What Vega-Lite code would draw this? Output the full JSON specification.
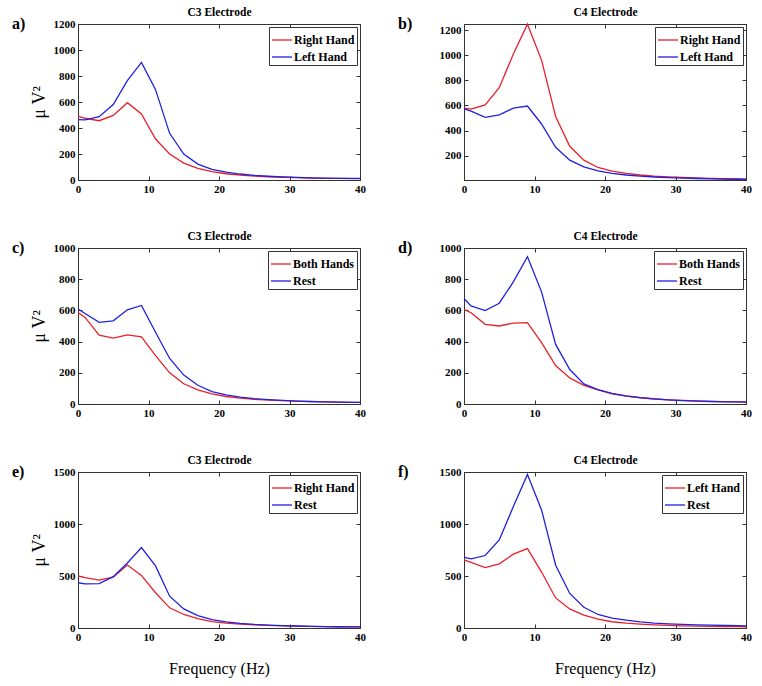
{
  "$schema": "https://vega.github.io/schema/vega-lite/v6.json",
  "background": "white",
  "padding": {"left": 11, "top": 6, "right": 5, "bottom": 5},
  "config": {
    "font": "Liberation Serif, Times New Roman, DejaVu Serif, serif",
    "view": {"stroke": "#333"},
    "axis": {"labelFont": "Liberation Serif, Times New Roman, DejaVu Serif, serif", "labelFontWeight": "bold", "labelFontSize": 11, "labelColor": "#000", "domainColor": "#333", "tickColor": "#333", "tickSize": -4, "labelPadding": 7, "grid": false, "labelFlush": false, "titleColor": "#000", "titleFont": "Liberation Serif, Times New Roman, DejaVu Serif, serif", "titleFontWeight": "normal", "format": "d"},
    "legend": {"orient": "top-right", "offset": 3, "strokeColor": "#333", "fillColor": "#fff", "padding": 2, "labelFont": "Liberation Serif, Times New Roman, DejaVu Serif, serif", "labelFontWeight": "bold", "labelFontSize": 12, "labelColor": "#000", "symbolType": "stroke", "symbolSize": 400, "symbolStrokeWidth": 1.5, "rowPadding": -2, "labelOffset": 1, "cornerRadius": 0},
    "title": {"font": "Liberation Serif, Times New Roman, DejaVu Serif, serif", "fontSize": 16, "fontWeight": "bold", "anchor": "start", "frame": "group", "dx": -66, "dy": 29, "offset": 0, "color": "#000"},
    "line": {"strokeWidth": 1.3}
  },
  "datasets": {
    "a": [
      {"s":"Right Hand","f":0,"v":492},{"s":"Right Hand","f":1,"v":475},{"s":"Right Hand","f":3,"v":456},{"s":"Right Hand","f":5,"v":497},{"s":"Right Hand","f":7,"v":595},{"s":"Right Hand","f":9,"v":508},{"s":"Right Hand","f":11,"v":315},{"s":"Right Hand","f":13,"v":200},{"s":"Right Hand","f":15,"v":130},{"s":"Right Hand","f":17,"v":90},{"s":"Right Hand","f":19,"v":65},{"s":"Right Hand","f":21,"v":48},{"s":"Right Hand","f":23,"v":38},{"s":"Right Hand","f":25,"v":30},{"s":"Right Hand","f":27,"v":25},{"s":"Right Hand","f":29,"v":21},{"s":"Right Hand","f":31,"v":18},{"s":"Right Hand","f":33,"v":15},{"s":"Right Hand","f":35,"v":13},{"s":"Right Hand","f":37,"v":12},{"s":"Right Hand","f":39,"v":11},{"s":"Right Hand","f":40,"v":10},
      {"s":"Left Hand","f":0,"v":465},{"s":"Left Hand","f":1,"v":462},{"s":"Left Hand","f":3,"v":487},{"s":"Left Hand","f":5,"v":580},{"s":"Left Hand","f":7,"v":764},{"s":"Left Hand","f":9,"v":905},{"s":"Left Hand","f":11,"v":695},{"s":"Left Hand","f":13,"v":359},{"s":"Left Hand","f":15,"v":200},{"s":"Left Hand","f":17,"v":122},{"s":"Left Hand","f":19,"v":82},{"s":"Left Hand","f":21,"v":60},{"s":"Left Hand","f":23,"v":46},{"s":"Left Hand","f":25,"v":36},{"s":"Left Hand","f":27,"v":29},{"s":"Left Hand","f":29,"v":24},{"s":"Left Hand","f":31,"v":20},{"s":"Left Hand","f":33,"v":17},{"s":"Left Hand","f":35,"v":15},{"s":"Left Hand","f":37,"v":13},{"s":"Left Hand","f":39,"v":12},{"s":"Left Hand","f":40,"v":12}
    ],
    "b": [
      {"s":"Right Hand","f":0,"v":578},{"s":"Right Hand","f":1,"v":570},{"s":"Right Hand","f":3,"v":605},{"s":"Right Hand","f":5,"v":742},{"s":"Right Hand","f":7,"v":1010},{"s":"Right Hand","f":9,"v":1248},{"s":"Right Hand","f":11,"v":962},{"s":"Right Hand","f":13,"v":512},{"s":"Right Hand","f":15,"v":274},{"s":"Right Hand","f":17,"v":163},{"s":"Right Hand","f":19,"v":105},{"s":"Right Hand","f":21,"v":75},{"s":"Right Hand","f":23,"v":58},{"s":"Right Hand","f":25,"v":45},{"s":"Right Hand","f":27,"v":36},{"s":"Right Hand","f":29,"v":30},{"s":"Right Hand","f":31,"v":25},{"s":"Right Hand","f":33,"v":21},{"s":"Right Hand","f":35,"v":18},{"s":"Right Hand","f":37,"v":15},{"s":"Right Hand","f":39,"v":13},{"s":"Right Hand","f":40,"v":12},
      {"s":"Left Hand","f":0,"v":573},{"s":"Left Hand","f":1,"v":555},{"s":"Left Hand","f":3,"v":505},{"s":"Left Hand","f":5,"v":525},{"s":"Left Hand","f":7,"v":578},{"s":"Left Hand","f":9,"v":595},{"s":"Left Hand","f":11,"v":452},{"s":"Left Hand","f":13,"v":266},{"s":"Left Hand","f":15,"v":163},{"s":"Left Hand","f":17,"v":110},{"s":"Left Hand","f":19,"v":78},{"s":"Left Hand","f":21,"v":58},{"s":"Left Hand","f":23,"v":45},{"s":"Left Hand","f":25,"v":36},{"s":"Left Hand","f":27,"v":29},{"s":"Left Hand","f":29,"v":24},{"s":"Left Hand","f":31,"v":20},{"s":"Left Hand","f":33,"v":17},{"s":"Left Hand","f":35,"v":14},{"s":"Left Hand","f":37,"v":12},{"s":"Left Hand","f":39,"v":11},{"s":"Left Hand","f":40,"v":10}
    ],
    "c": [
      {"s":"Both Hands","f":0,"v":587},{"s":"Both Hands","f":1,"v":555},{"s":"Both Hands","f":3,"v":441},{"s":"Both Hands","f":5,"v":422},{"s":"Both Hands","f":7,"v":443},{"s":"Both Hands","f":9,"v":430},{"s":"Both Hands","f":11,"v":310},{"s":"Both Hands","f":13,"v":200},{"s":"Both Hands","f":15,"v":130},{"s":"Both Hands","f":17,"v":90},{"s":"Both Hands","f":19,"v":65},{"s":"Both Hands","f":21,"v":48},{"s":"Both Hands","f":23,"v":38},{"s":"Both Hands","f":25,"v":30},{"s":"Both Hands","f":27,"v":25},{"s":"Both Hands","f":29,"v":21},{"s":"Both Hands","f":31,"v":18},{"s":"Both Hands","f":33,"v":15},{"s":"Both Hands","f":35,"v":13},{"s":"Both Hands","f":37,"v":12},{"s":"Both Hands","f":39,"v":11},{"s":"Both Hands","f":40,"v":10},
      {"s":"Rest","f":0,"v":609},{"s":"Rest","f":1,"v":580},{"s":"Rest","f":3,"v":523},{"s":"Rest","f":5,"v":533},{"s":"Rest","f":7,"v":604},{"s":"Rest","f":9,"v":632},{"s":"Rest","f":11,"v":460},{"s":"Rest","f":13,"v":292},{"s":"Rest","f":15,"v":185},{"s":"Rest","f":17,"v":120},{"s":"Rest","f":19,"v":80},{"s":"Rest","f":21,"v":58},{"s":"Rest","f":23,"v":44},{"s":"Rest","f":25,"v":34},{"s":"Rest","f":27,"v":28},{"s":"Rest","f":29,"v":23},{"s":"Rest","f":31,"v":19},{"s":"Rest","f":33,"v":16},{"s":"Rest","f":35,"v":14},{"s":"Rest","f":37,"v":12},{"s":"Rest","f":39,"v":11},{"s":"Rest","f":40,"v":10}
    ],
    "d": [
      {"s":"Both Hands","f":0,"v":607},{"s":"Both Hands","f":1,"v":585},{"s":"Both Hands","f":3,"v":511},{"s":"Both Hands","f":5,"v":500},{"s":"Both Hands","f":7,"v":519},{"s":"Both Hands","f":9,"v":521},{"s":"Both Hands","f":11,"v":393},{"s":"Both Hands","f":13,"v":247},{"s":"Both Hands","f":15,"v":167},{"s":"Both Hands","f":17,"v":120},{"s":"Both Hands","f":19,"v":90},{"s":"Both Hands","f":21,"v":65},{"s":"Both Hands","f":23,"v":50},{"s":"Both Hands","f":25,"v":40},{"s":"Both Hands","f":27,"v":32},{"s":"Both Hands","f":29,"v":27},{"s":"Both Hands","f":31,"v":23},{"s":"Both Hands","f":33,"v":20},{"s":"Both Hands","f":35,"v":17},{"s":"Both Hands","f":37,"v":15},{"s":"Both Hands","f":39,"v":14},{"s":"Both Hands","f":40,"v":13},
      {"s":"Rest","f":0,"v":676},{"s":"Rest","f":1,"v":629},{"s":"Rest","f":3,"v":599},{"s":"Rest","f":5,"v":646},{"s":"Rest","f":7,"v":783},{"s":"Rest","f":9,"v":944},{"s":"Rest","f":11,"v":719},{"s":"Rest","f":13,"v":382},{"s":"Rest","f":15,"v":221},{"s":"Rest","f":17,"v":129},{"s":"Rest","f":19,"v":92},{"s":"Rest","f":21,"v":68},{"s":"Rest","f":23,"v":52},{"s":"Rest","f":25,"v":41},{"s":"Rest","f":27,"v":33},{"s":"Rest","f":29,"v":27},{"s":"Rest","f":31,"v":22},{"s":"Rest","f":33,"v":19},{"s":"Rest","f":35,"v":16},{"s":"Rest","f":37,"v":14},{"s":"Rest","f":39,"v":13},{"s":"Rest","f":40,"v":12}
    ],
    "e": [
      {"s":"Right Hand","f":0,"v":500},{"s":"Right Hand","f":1,"v":485},{"s":"Right Hand","f":3,"v":461},{"s":"Right Hand","f":5,"v":490},{"s":"Right Hand","f":7,"v":606},{"s":"Right Hand","f":9,"v":506},{"s":"Right Hand","f":11,"v":339},{"s":"Right Hand","f":13,"v":194},{"s":"Right Hand","f":15,"v":130},{"s":"Right Hand","f":17,"v":90},{"s":"Right Hand","f":19,"v":62},{"s":"Right Hand","f":21,"v":47},{"s":"Right Hand","f":23,"v":37},{"s":"Right Hand","f":25,"v":30},{"s":"Right Hand","f":27,"v":25},{"s":"Right Hand","f":29,"v":21},{"s":"Right Hand","f":31,"v":18},{"s":"Right Hand","f":33,"v":15},{"s":"Right Hand","f":35,"v":13},{"s":"Right Hand","f":37,"v":12},{"s":"Right Hand","f":39,"v":11},{"s":"Right Hand","f":40,"v":10},
      {"s":"Rest","f":0,"v":435},{"s":"Rest","f":1,"v":425},{"s":"Rest","f":3,"v":426},{"s":"Rest","f":5,"v":494},{"s":"Rest","f":7,"v":625},{"s":"Rest","f":9,"v":774},{"s":"Rest","f":11,"v":597},{"s":"Rest","f":13,"v":306},{"s":"Rest","f":15,"v":184},{"s":"Rest","f":17,"v":120},{"s":"Rest","f":19,"v":80},{"s":"Rest","f":21,"v":58},{"s":"Rest","f":23,"v":44},{"s":"Rest","f":25,"v":34},{"s":"Rest","f":27,"v":28},{"s":"Rest","f":29,"v":23},{"s":"Rest","f":31,"v":19},{"s":"Rest","f":33,"v":16},{"s":"Rest","f":35,"v":14},{"s":"Rest","f":37,"v":12},{"s":"Rest","f":39,"v":11},{"s":"Rest","f":40,"v":10}
    ],
    "f": [
      {"s":"Left Hand","f":0,"v":654},{"s":"Left Hand","f":1,"v":630},{"s":"Left Hand","f":3,"v":581},{"s":"Left Hand","f":5,"v":617},{"s":"Left Hand","f":7,"v":710},{"s":"Left Hand","f":9,"v":763},{"s":"Left Hand","f":11,"v":538},{"s":"Left Hand","f":13,"v":289},{"s":"Left Hand","f":15,"v":183},{"s":"Left Hand","f":17,"v":123},{"s":"Left Hand","f":19,"v":85},{"s":"Left Hand","f":21,"v":60},{"s":"Left Hand","f":23,"v":46},{"s":"Left Hand","f":25,"v":37},{"s":"Left Hand","f":27,"v":30},{"s":"Left Hand","f":29,"v":25},{"s":"Left Hand","f":31,"v":21},{"s":"Left Hand","f":33,"v":18},{"s":"Left Hand","f":35,"v":16},{"s":"Left Hand","f":37,"v":14},{"s":"Left Hand","f":39,"v":13},{"s":"Left Hand","f":40,"v":12},
      {"s":"Rest","f":0,"v":680},{"s":"Rest","f":1,"v":664},{"s":"Rest","f":3,"v":697},{"s":"Rest","f":5,"v":846},{"s":"Rest","f":7,"v":1168},{"s":"Rest","f":9,"v":1477},{"s":"Rest","f":11,"v":1135},{"s":"Rest","f":13,"v":604},{"s":"Rest","f":15,"v":332},{"s":"Rest","f":17,"v":199},{"s":"Rest","f":19,"v":130},{"s":"Rest","f":21,"v":95},{"s":"Rest","f":23,"v":75},{"s":"Rest","f":25,"v":58},{"s":"Rest","f":27,"v":47},{"s":"Rest","f":29,"v":40},{"s":"Rest","f":31,"v":34},{"s":"Rest","f":33,"v":30},{"s":"Rest","f":35,"v":27},{"s":"Rest","f":37,"v":24},{"s":"Rest","f":39,"v":22},{"s":"Rest","f":40,"v":21}
    ]
  },
  "columns": 2,
  "bounds": "flush",
  "spacing": {"row": 68, "column": 104},
  "resolve": {"scale": {"color": "independent"}, "legend": {"color": "independent"}},
  "concat": [
    {
      "width": 282, "height": 156, "data": {"name": "a"}, "title": "a)",
      "layer": [
        {"mark": "line", "encoding": {
          "x": {"field": "f", "type": "quantitative", "scale": {"domain": [0, 40], "nice": false}, "axis": {"orient": "bottom", "values": [0, 10, 20, 30, 40], "title": null}},
          "y": {"field": "v", "type": "quantitative", "scale": {"domain": [0, 1200], "nice": false}, "axis": {"orient": "left", "values": [0, 200, 400, 600, 800, 1000, 1200], "title": "μ V²", "titleFontSize": 18, "titlePadding": 5}},
          "color": {"field": "s", "type": "nominal", "scale": {"domain": ["Right Hand", "Left Hand"], "range": ["#e8202a", "#2020e0"]}, "legend": {"title": null, "orient": "top-right"}}}},
        {"mark": {"type": "line", "opacity": 0}, "encoding": {
          "x": {"field": "f", "type": "quantitative", "scale": {"domain": [0, 40], "nice": false}, "axis": {"orient": "top", "values": [0, 10, 20, 30, 40], "labels": false, "title": "C3 Electrode", "titleFontSize": 11.5, "titleFontWeight": "bold", "titlePadding": 6}},
          "y": {"field": "v", "type": "quantitative", "scale": {"domain": [0, 1200], "nice": false}, "axis": {"orient": "right", "values": [0, 200, 400, 600, 800, 1000, 1200], "labels": false, "title": null}},
          "detail": {"field": "s"}}}
      ],
      "resolve": {"axis": {"x": "independent", "y": "independent"}}
    },
    {
      "width": 282, "height": 156, "data": {"name": "b"}, "title": "b)",
      "layer": [
        {"mark": "line", "encoding": {
          "x": {"field": "f", "type": "quantitative", "scale": {"domain": [0, 40], "nice": false}, "axis": {"orient": "bottom", "values": [0, 10, 20, 30, 40], "title": null}},
          "y": {"field": "v", "type": "quantitative", "scale": {"domain": [5, 1250], "nice": false, "zero": false}, "axis": {"orient": "left", "values": [200, 400, 600, 800, 1000, 1200], "title": null}},
          "color": {"field": "s", "type": "nominal", "scale": {"domain": ["Right Hand", "Left Hand"], "range": ["#e8202a", "#2020e0"]}, "legend": {"title": null, "orient": "top-right"}}}},
        {"mark": {"type": "line", "opacity": 0}, "encoding": {
          "x": {"field": "f", "type": "quantitative", "scale": {"domain": [0, 40], "nice": false}, "axis": {"orient": "top", "values": [0, 10, 20, 30, 40], "labels": false, "title": "C4 Electrode", "titleFontSize": 11.5, "titleFontWeight": "bold", "titlePadding": 6}},
          "y": {"field": "v", "type": "quantitative", "scale": {"domain": [5, 1250], "nice": false, "zero": false}, "axis": {"orient": "right", "values": [200, 400, 600, 800, 1000, 1200], "labels": false, "title": null}},
          "detail": {"field": "s"}}}
      ],
      "resolve": {"axis": {"x": "independent", "y": "independent"}}
    },
    {
      "width": 282, "height": 156, "data": {"name": "c"}, "title": "c)",
      "layer": [
        {"mark": "line", "encoding": {
          "x": {"field": "f", "type": "quantitative", "scale": {"domain": [0, 40], "nice": false}, "axis": {"orient": "bottom", "values": [0, 10, 20, 30, 40], "title": null}},
          "y": {"field": "v", "type": "quantitative", "scale": {"domain": [0, 1000], "nice": false}, "axis": {"orient": "left", "values": [0, 200, 400, 600, 800, 1000], "title": "μ V²", "titleFontSize": 18, "titlePadding": 5}},
          "color": {"field": "s", "type": "nominal", "scale": {"domain": ["Both Hands", "Rest"], "range": ["#e8202a", "#2020e0"]}, "legend": {"title": null, "orient": "top-right"}}}},
        {"mark": {"type": "line", "opacity": 0}, "encoding": {
          "x": {"field": "f", "type": "quantitative", "scale": {"domain": [0, 40], "nice": false}, "axis": {"orient": "top", "values": [0, 10, 20, 30, 40], "labels": false, "title": "C3 Electrode", "titleFontSize": 11.5, "titleFontWeight": "bold", "titlePadding": 6}},
          "y": {"field": "v", "type": "quantitative", "scale": {"domain": [0, 1000], "nice": false}, "axis": {"orient": "right", "values": [0, 200, 400, 600, 800, 1000], "labels": false, "title": null}},
          "detail": {"field": "s"}}}
      ],
      "resolve": {"axis": {"x": "independent", "y": "independent"}}
    },
    {
      "width": 282, "height": 156, "data": {"name": "d"}, "title": "d)",
      "layer": [
        {"mark": "line", "encoding": {
          "x": {"field": "f", "type": "quantitative", "scale": {"domain": [0, 40], "nice": false}, "axis": {"orient": "bottom", "values": [0, 10, 20, 30, 40], "title": null}},
          "y": {"field": "v", "type": "quantitative", "scale": {"domain": [0, 1000], "nice": false}, "axis": {"orient": "left", "values": [0, 200, 400, 600, 800, 1000], "title": null}},
          "color": {"field": "s", "type": "nominal", "scale": {"domain": ["Both Hands", "Rest"], "range": ["#e8202a", "#2020e0"]}, "legend": {"title": null, "orient": "top-right"}}}},
        {"mark": {"type": "line", "opacity": 0}, "encoding": {
          "x": {"field": "f", "type": "quantitative", "scale": {"domain": [0, 40], "nice": false}, "axis": {"orient": "top", "values": [0, 10, 20, 30, 40], "labels": false, "title": "C4 Electrode", "titleFontSize": 11.5, "titleFontWeight": "bold", "titlePadding": 6}},
          "y": {"field": "v", "type": "quantitative", "scale": {"domain": [0, 1000], "nice": false}, "axis": {"orient": "right", "values": [0, 200, 400, 600, 800, 1000], "labels": false, "title": null}},
          "detail": {"field": "s"}}}
      ],
      "resolve": {"axis": {"x": "independent", "y": "independent"}}
    },
    {
      "width": 282, "height": 156, "data": {"name": "e"}, "title": "e)",
      "layer": [
        {"mark": "line", "encoding": {
          "x": {"field": "f", "type": "quantitative", "scale": {"domain": [0, 40], "nice": false}, "axis": {"orient": "bottom", "values": [0, 10, 20, 30, 40], "title": "Frequency (Hz)", "titleFontSize": 16, "titlePadding": 18}},
          "y": {"field": "v", "type": "quantitative", "scale": {"domain": [0, 1500], "nice": false}, "axis": {"orient": "left", "values": [0, 500, 1000, 1500], "title": "μ V²", "titleFontSize": 18, "titlePadding": 5}},
          "color": {"field": "s", "type": "nominal", "scale": {"domain": ["Right Hand", "Rest"], "range": ["#e8202a", "#2020e0"]}, "legend": {"title": null, "orient": "top-right"}}}},
        {"mark": {"type": "line", "opacity": 0}, "encoding": {
          "x": {"field": "f", "type": "quantitative", "scale": {"domain": [0, 40], "nice": false}, "axis": {"orient": "top", "values": [0, 10, 20, 30, 40], "labels": false, "title": "C3 Electrode", "titleFontSize": 11.5, "titleFontWeight": "bold", "titlePadding": 6}},
          "y": {"field": "v", "type": "quantitative", "scale": {"domain": [0, 1500], "nice": false}, "axis": {"orient": "right", "values": [0, 500, 1000, 1500], "labels": false, "title": null}},
          "detail": {"field": "s"}}}
      ],
      "resolve": {"axis": {"x": "independent", "y": "independent"}}
    },
    {
      "width": 282, "height": 156, "data": {"name": "f"}, "title": "f)",
      "layer": [
        {"mark": "line", "encoding": {
          "x": {"field": "f", "type": "quantitative", "scale": {"domain": [0, 40], "nice": false}, "axis": {"orient": "bottom", "values": [0, 10, 20, 30, 40], "title": "Frequency (Hz)", "titleFontSize": 16, "titlePadding": 18}},
          "y": {"field": "v", "type": "quantitative", "scale": {"domain": [0, 1500], "nice": false}, "axis": {"orient": "left", "values": [0, 500, 1000, 1500], "title": null}},
          "color": {"field": "s", "type": "nominal", "scale": {"domain": ["Left Hand", "Rest"], "range": ["#e8202a", "#2020e0"]}, "legend": {"title": null, "orient": "top-right"}}}},
        {"mark": {"type": "line", "opacity": 0}, "encoding": {
          "x": {"field": "f", "type": "quantitative", "scale": {"domain": [0, 40], "nice": false}, "axis": {"orient": "top", "values": [0, 10, 20, 30, 40], "labels": false, "title": "C4 Electrode", "titleFontSize": 11.5, "titleFontWeight": "bold", "titlePadding": 6}},
          "y": {"field": "v", "type": "quantitative", "scale": {"domain": [0, 1500], "nice": false}, "axis": {"orient": "right", "values": [0, 500, 1000, 1500], "labels": false, "title": null}},
          "detail": {"field": "s"}}}
      ],
      "resolve": {"axis": {"x": "independent", "y": "independent"}}
    }
  ]
}
